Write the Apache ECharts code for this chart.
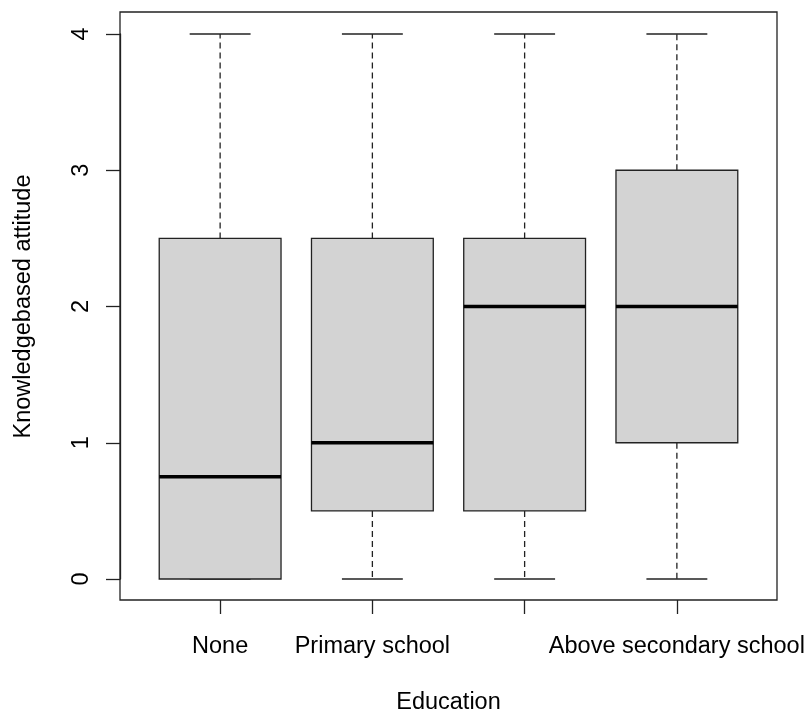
<!DOCTYPE html>
<html>
<head>
<meta charset="utf-8">
<script src="https://cdn.jsdelivr.net/npm/echarts@6/dist/echarts.min.js"></script>
<style>
  html, body { margin: 0; padding: 0; background: #fff; }
  #chart { width: 806px; height: 710px; }
</style>
</head>
<body>
<div id="chart"></div>
<script>
// Education groups and the five-number summary of each group
const categories = ['None', 'Primary school', 'Secondary school', 'Above secondary school'];
// axis labels as printed (the third one is dropped where it would collide)
const tickLabels = ['None', 'Primary school', '', 'Above secondary school'];
const whiskerLow = [0, 0, 0, 0];
const lowerQuartile = [0, 0.5, 0.5, 1];
const medians = [0.75, 1, 2, 2];
const upperQuartile = [2.5, 2.5, 2.5, 3];
const whiskerHigh = [4, 4, 4, 4];
const yTicks = [0, 1, 2, 3, 4];

const FONT = '"Liberation Sans", Arial, sans-serif';
const INK = '#000';
const LINE = '#222';

const boxData = categories.map((c, i) => [
  i, whiskerLow[i], lowerQuartile[i], medians[i], upperQuartile[i], whiskerHigh[i]
]);

function renderBox(params, api) {
  const i = api.value(0);
  const lo = api.coord([i, api.value(1)]);
  const q1 = api.coord([i, api.value(2)]);
  const md = api.coord([i, api.value(3)]);
  const q3 = api.coord([i, api.value(4)]);
  const hi = api.coord([i, api.value(5)]);
  const band = api.size([1, 0])[0];
  const bw = band * 0.8;
  const cw = bw * 0.5;
  const cx = md[0];
  const dash = { stroke: LINE, lineWidth: 1.3, lineDash: [6, 4] };
  const solid = { stroke: LINE, lineWidth: 1.3 };
  return {
    type: 'group',
    children: [
      { type: 'line', shape: { x1: cx, y1: q3[1], x2: cx, y2: hi[1] }, style: dash },
      { type: 'line', shape: { x1: cx, y1: q1[1], x2: cx, y2: lo[1] }, style: dash },
      { type: 'line', shape: { x1: cx - cw / 2, y1: hi[1], x2: cx + cw / 2, y2: hi[1] }, style: solid },
      { type: 'line', shape: { x1: cx - cw / 2, y1: lo[1], x2: cx + cw / 2, y2: lo[1] }, style: solid },
      { type: 'rect', shape: { x: cx - bw / 2, y: q3[1], width: bw, height: q1[1] - q3[1] },
        style: { fill: '#d3d3d3', stroke: LINE, lineWidth: 1.3 } },
      { type: 'line', shape: { x1: cx - bw / 2, y1: md[1], x2: cx + bw / 2, y2: md[1] },
        style: { stroke: '#000', lineWidth: 3.5 } }
    ]
  };
}

const chart = echarts.init(document.getElementById('chart'), null, { renderer: 'canvas' });
chart.setOption({
  backgroundColor: '#fff',
  animation: false,
  grid: { left: 144, top: 34, width: 609, height: 545, containLabel: false, outerBoundsMode: 'none' },
  xAxis: {
    type: 'category',
    data: categories,
    offset: 21,
    axisLine: { show: false, onZero: false },
    axisTick: { show: true, alignWithLabel: true, length: 14, lineStyle: { color: LINE, width: 1.3 } },
    axisLabel: {
      color: INK, fontFamily: FONT, fontSize: 23.5, margin: 35, interval: 0,
      formatter: (v, i) => tickLabels[i]
    },
    splitLine: { show: false },
    name: 'Education',
    nameLocation: 'middle',
    nameGap: 91,
    nameTextStyle: { color: INK, fontFamily: FONT, fontSize: 23.5 }
  },
  yAxis: {
    type: 'value',
    min: yTicks[0],
    max: yTicks[yTicks.length - 1],
    interval: 1,
    offset: 24,
    axisLine: { show: true, lineStyle: { color: LINE, width: 1.3 } },
    axisTick: { show: true, length: 14, lineStyle: { color: LINE, width: 1.3 } },
    axisLabel: { color: INK, fontFamily: FONT, fontSize: 23.5, rotate: 90, margin: 26 },
    splitLine: { show: false },
    name: 'Knowledgebased attitude',
    nameLocation: 'middle',
    nameGap: 84,
    nameTextStyle: { color: INK, fontFamily: FONT, fontSize: 23.5 }
  },
  graphic: [
    { type: 'rect', silent: true, z: 10,
      shape: { x: 120, y: 12, width: 657, height: 588 },
      style: { fill: 'none', stroke: LINE, lineWidth: 1.3 } }
  ],
  series: [{
    type: 'custom',
    renderItem: renderBox,
    encode: { x: 0, y: [1, 2, 3, 4, 5] },
    data: boxData
  }]
});
</script>
</body>
</html>
